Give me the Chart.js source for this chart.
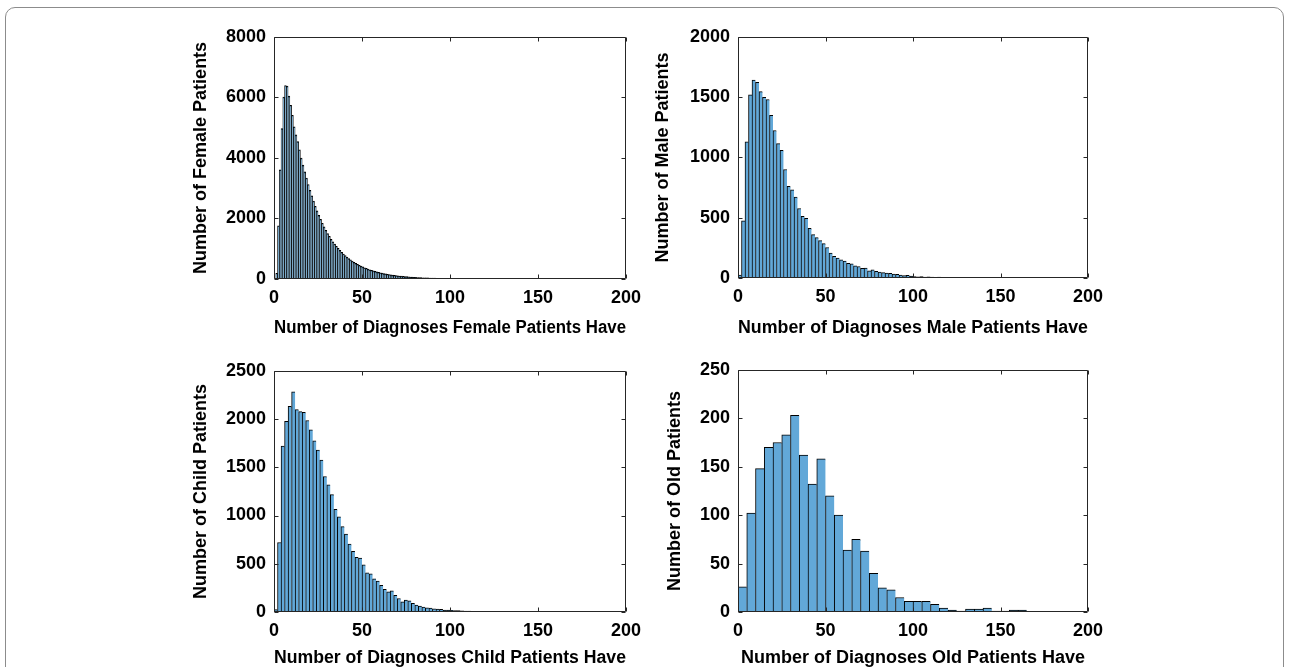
<!DOCTYPE html>
<html>
<head>
<meta charset="utf-8">
<script src="https://cdn.jsdelivr.net/npm/chart.js@4.4.1/dist/chart.umd.min.js"></script>
<style>
  html, body { margin: 0; padding: 0; background: #fff; overflow: hidden; }
  body { width: 1289px; height: 667px; position: relative; }
  .frame { position: absolute; left: 5px; top: 7px; width: 1279px; height: 700px;
           border: 1px solid #8c8c8c; border-radius: 10px; box-sizing: border-box; }
  canvas { position: absolute; }
</style>
</head>
<body>
<div class="frame"></div>
<canvas id="female"></canvas>
<canvas id="male"></canvas>
<canvas id="child"></canvas>
<canvas id="old"></canvas>
<script>
// --- data ---
const xTicks = [0, 50, 100, 150, 200];
const femaleYTicks = [0, 2000, 4000, 6000, 8000];
const maleYTicks = [0, 500, 1000, 1500, 2000];
const childYTicks = [0, 500, 1000, 1500, 2000, 2500];
const oldYTicks = [0, 50, 100, 150, 200, 250];

// bar widths (number of diagnoses per bin)
const femaleBin = 1;
const maleBin = 2;
const childBin = 2;
const oldBin = 5;

// patient counts per bin, starting at 0 diagnoses
const femaleCounts = [
  0, 190, 1760, 3610, 4970, 6010, 6390, 6370, 6040, 5740,
  5410, 5030, 4760, 4540, 4270, 3990, 3760, 3540, 3330, 3120,
  2930, 2750, 2570, 2400, 2250, 2100, 1970, 1840, 1720, 1610,
  1500, 1410, 1310, 1230, 1150, 1080, 1010, 945, 880, 825,
  770, 720, 675, 630, 590, 552, 515, 485, 452, 425,
  398, 372, 350, 326, 305, 286, 268, 250, 234, 219,
  205, 192, 180, 168, 158, 148, 138, 130, 121, 113,
  106, 99, 93, 87, 81, 76, 71, 67, 62, 58,
  55, 51, 48, 45, 42, 40, 37, 35, 33, 31,
  29, 27, 25, 24, 22, 21, 20, 18, 17, 16,
  15, 14, 13, 12, 12, 11, 10, 10, 9, 9,
  8, 8, 7, 7, 6, 6, 6, 5, 5, 5,
  4, 4, 4, 4, 3, 3, 3, 3, 3, 2,
  2, 2, 2, 2, 2, 2, 1, 2, 1, 1,
  1, 1, 1, 1, 1, 1, 1, 1, 1, 1,
  1, 0, 1, 1, 0, 1, 0, 1, 0, 0,
  1, 0, 0, 1, 0, 0, 0, 1, 0, 0,
  0, 0, 0, 0, 1, 0, 0, 0, 0, 0,
  0, 0, 0, 0, 0, 0, 0, 0, 0, 0,
  0, 0, 0, 0, 0, 0, 0, 0, 0, 0
];
const maleCounts = [
  25, 474, 1130, 1519, 1641, 1622, 1546, 1499, 1480, 1349,
  1223, 1114, 1059, 900, 761, 731, 671, 576, 512, 494,
  412, 359, 335, 310, 285, 253, 207, 179, 165, 150,
  140, 122, 118, 100, 95, 80, 82, 60, 68, 55,
  50, 45, 40, 38, 32, 30, 25, 20, 22, 15,
  12, 10, 12, 8, 9, 7, 6, 8, 5, 4,
  5, 3, 4, 3, 2, 3, 2, 2, 1, 2,
  1, 1, 2, 1, 1, 1, 0, 1, 1, 0,
  1, 0, 1, 0, 0, 1, 0, 0, 0, 0,
  0, 0, 0, 0, 0, 0, 0, 0, 0, 0
];
const childCounts = [
  25, 720, 1719, 1975, 2132, 2283, 2098, 2077, 2070, 1985,
  1889, 1773, 1678, 1575, 1404, 1319, 1217, 1063, 987, 885,
  807, 704, 628, 567, 560, 489, 407, 395, 345, 321,
  277, 236, 208, 219, 174, 140, 106, 123, 116, 89,
  72, 61, 50, 44, 41, 34, 30, 27, 21, 21,
  18, 14, 14, 12, 10, 9, 8, 8, 6, 5,
  5, 4, 3, 4, 3, 2, 2, 2, 1, 1,
  1, 0, 1, 1, 0, 1, 0, 0, 1, 0,
  0, 0, 0, 0, 0, 0, 0, 0, 0, 0,
  0, 0, 0, 0, 0, 0, 0, 0, 0, 0
];
const oldCounts = [
  26, 102, 148, 170, 175, 183, 203, 162, 132, 158,
  120, 100, 64, 75, 63, 40, 25, 23, 15, 11,
  11, 11, 8, 4, 2, 1, 3, 3, 4, 1,
  1, 2, 2, 0, 0, 0, 0, 0, 0, 0
];

const BAR_FILL = 'rgb(98,168,216)';
const font = { family: "'Liberation Sans', Arial, sans-serif", size: 18, weight: 'bold' };
const HALF_LINE = 18 * 1.2 / 2;

// matlab style box with inward ticks on all four sides
const boxAndTicks = {
  id: 'boxAndTicks',
  afterDatasetsDraw(chart) {
    const { ctx, chartArea: a, scales } = chart;
    const L = Math.round(a.left) + 0.5, R = Math.round(a.right) - 0.5;
    const T = Math.round(a.top) + 0.5, B = Math.round(a.bottom) - 0.5;
    ctx.save();
    ctx.strokeStyle = '#262626';
    ctx.lineWidth = 1;
    ctx.beginPath();
    ctx.rect(L, T, R - L, B - T);
    scales.x.ticks.forEach(t => {
      const px = Math.round(scales.x.getPixelForValue(t.value)) + 0.5;
      ctx.moveTo(px, B); ctx.lineTo(px, B - 4);
      ctx.moveTo(px, T); ctx.lineTo(px, T + 4);
    });
    scales.y.ticks.forEach(t => {
      const py = Math.round(scales.y.getPixelForValue(t.value)) + 0.5;
      ctx.moveTo(L, py); ctx.lineTo(L + 4, py);
      ctx.moveTo(R, py); ctx.lineTo(R - 4, py);
    });
    ctx.stroke();
    ctx.restore();
  }
};

function panel(id, box, counts, binWidth, yTicks, edges) {
  const cv = document.getElementById(id);
  const left = Math.round(box.yTitleX - HALF_LINE);
  const top = box.top - 16;
  const xAxisH = Math.round(box.xTitleY + HALF_LINE - box.bottom);
  const yAxisW = box.left - left;
  cv.width = box.right - left + 34;
  cv.height = box.bottom - top + xAxisH;
  cv.style.left = left + 'px';
  cv.style.top = top + 'px';

  const data = counts.map((c, i) => ({ x: (i + 0.5) * binWidth, y: c }));

  new Chart(cv, {
    type: 'bar',
    data: {
      datasets: [{
        data: data,
        backgroundColor: BAR_FILL,
        borderColor: '#000',
        borderWidth: edges,
        barPercentage: 1,
        categoryPercentage: 1
      }]
    },
    options: {
      responsive: false,
      animation: false,
      devicePixelRatio: 1,
      layout: { padding: { top: 16, right: 34, left: 0, bottom: 0 } },
      plugins: { legend: { display: false }, tooltip: { enabled: false } },
      scales: {
        x: {
          type: 'linear', min: 0, max: 200, offset: false,
          grid: { display: false, drawTicks: false }, border: { display: false },
          afterBuildTicks: s => { s.ticks = xTicks.map(v => ({ value: v })); },
          ticks: { font, color: '#000', padding: 8, maxRotation: 0, callback: v => String(v) },
          title: { display: true, text: box.xTitle, font, color: '#000', padding: 0 },
          afterFit: s => { s.height = xAxisH; }
        },
        y: {
          min: 0, max: yTicks[yTicks.length - 1],
          grid: { display: false, drawTicks: false }, border: { display: false },
          afterBuildTicks: s => { s.ticks = yTicks.map(v => ({ value: v })); },
          ticks: { font, color: '#000', padding: 8, callback: v => String(v) },
          title: { display: true, text: box.yTitle, font, color: '#000', padding: 0 },
          afterFit: s => { s.width = yAxisW; }
        }
      }
    },
    plugins: [boxAndTicks]
  });
}

const thinEdges = { left: 1, top: 1, right: 1, bottom: 0 };
const wideEdges = { left: 1, top: 1, right: 0, bottom: 0 };

panel('female', { left: 274, right: 626, top: 34, bottom: 279, yTitleX: 201, xTitleY: 328,
  xTitle: 'Number of Diagnoses Female Patients Have', yTitle: 'Number of Female Patients' },
  femaleCounts, femaleBin, femaleYTicks, thinEdges);
panel('male', { left: 738, right: 1088, top: 34, bottom: 278, yTitleX: 663, xTitleY: 328,
  xTitle: 'Number of Diagnoses Male Patients Have', yTitle: 'Number of Male Patients' },
  maleCounts, maleBin, maleYTicks, wideEdges);
panel('child', { left: 274, right: 626, top: 368, bottom: 612, yTitleX: 201, xTitleY: 658,
  xTitle: 'Number of Diagnoses Child Patients Have', yTitle: 'Number of Child Patients' },
  childCounts, childBin, childYTicks, wideEdges);
panel('old', { left: 738, right: 1088, top: 367, bottom: 612, yTitleX: 675, xTitleY: 658,
  xTitle: 'Number of Diagnoses Old Patients Have', yTitle: 'Number of Old Patients' },
  oldCounts, oldBin, oldYTicks, wideEdges);
</script>
</body>
</html>
